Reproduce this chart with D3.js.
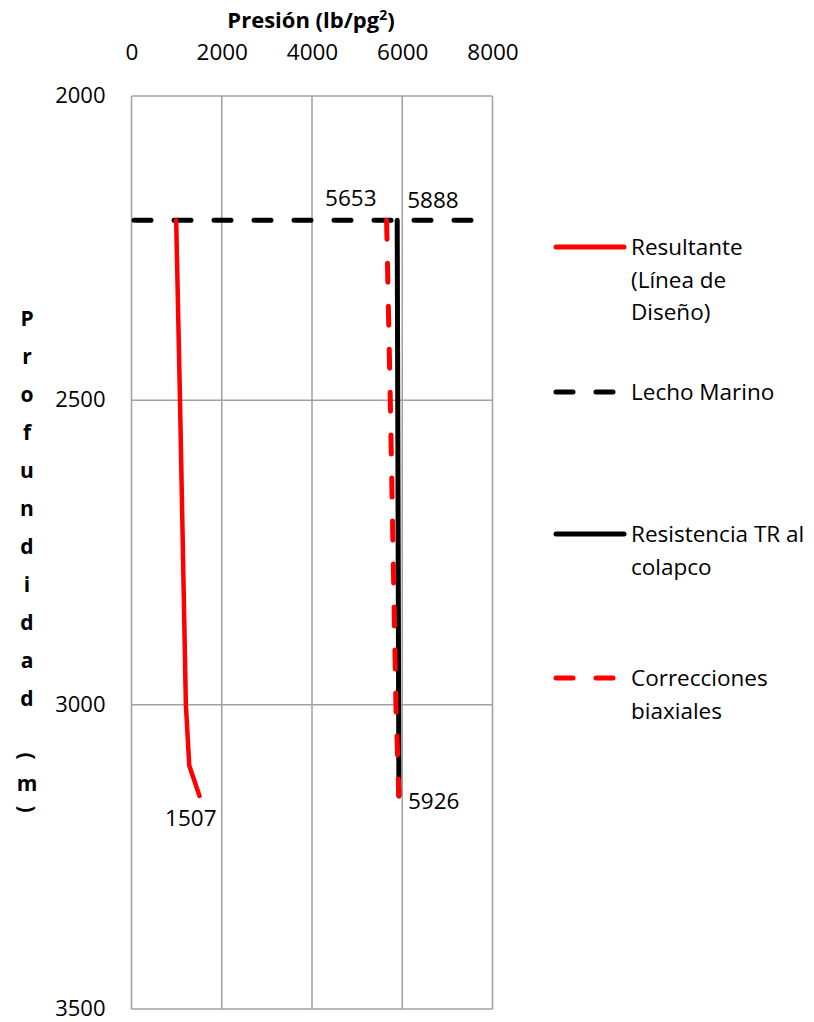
<!DOCTYPE html>
<html>
<head>
<meta charset="utf-8">
<script src="https://cdn.jsdelivr.net/npm/d3@7"></script>
<style>
  body { margin: 0; background: #fff; }
  text { font-family: "Open Sans", sans-serif; fill: #000; }
</style>
</head>
<body>
<svg id="chart"></svg>
<script>
// data (depth in m, pressure in lb/pg2)
var xTicks = [0, 2000, 4000, 6000, 8000];
var yTicks = [2000, 2500, 3000, 3500];

var resultDepth = [2204, 2500, 3000, 3100, 3150];
var resultValue = [990, 1075, 1205, 1280, 1507];

var seabedDepth = 2204;
var seabedRange = [0, 8000];

var resistDepth = [2204, 3150];
var resistValue = [5888, 5926];

var biaxDepth = [2204, 2500, 3000, 3150];
var biaxValue = [5653, 5735, 5860, 5926];

var pointLabels = [
  { text: "5653", v: 5653, d: 2204, dx: -10, dy: -14, anchor: "end" },
  { text: "5888", v: 5888, d: 2204, dx: 10, dy: -12, anchor: "start" },
  { text: "1507", v: 1507, d: 3150, dx: 17, dy: 30, anchor: "end" },
  { text: "5926", v: 5926, d: 3150, dx: 9, dy: 13, anchor: "start" }
];

var yTitle = "Profundidad (m)";

var w = 814, h = 1022;
var svg = d3.select('#chart').attr("width", w).attr("height", h);

var x = d3.scaleLinear().domain([0, 8000]).range([131.5, 492.5]);
var y = d3.scaleLinear().domain([2000, 3500]).range([96, 1009]);

var grid = "#a0a0a0";

// grid lines
svg.append("g").selectAll("line").data(xTicks).enter().append("line")
  .attr("x1", function(d) { return x(d); }).attr("x2", function(d) { return x(d); })
  .attr("y1", y(2000)).attr("y2", y(3500))
  .attr("stroke", grid).attr("stroke-width", 1.5);
svg.append("g").selectAll("line").data(yTicks).enter().append("line")
  .attr("x1", x(0)).attr("x2", x(8000))
  .attr("y1", function(d) { return y(d); }).attr("y2", function(d) { return y(d); })
  .attr("stroke", grid).attr("stroke-width", 1.5);

// axes
var xAxis = svg.append("g").attr("transform", "translate(0," + y(2000) + ")")
  .call(d3.axisTop(x).tickValues(xTicks).tickSize(0).tickPadding(36).tickFormat(d3.format("d")));
var yAxis = svg.append("g").attr("transform", "translate(" + x(0) + ",0)")
  .call(d3.axisLeft(y).tickValues(yTicks).tickSize(0).tickPadding(26).tickFormat(d3.format("d")));
xAxis.select(".domain").remove();
yAxis.select(".domain").remove();
xAxis.selectAll("text").style("font-family", "'Open Sans', sans-serif").style("font-size", "22.5px").attr("fill", "#000");
yAxis.selectAll("text").style("font-family", "'Open Sans', sans-serif").style("font-size", "22px").attr("fill", "#000")
  .attr("dy", "0.3em");

// x title
var title = svg.append("text").attr("x", 311).attr("y", 28).attr("text-anchor", "middle")
  .style("font-size", "22px").style("font-weight", "bold");
title.append("tspan").text("Presión (lb/pg");
title.append("tspan").text("2").style("font-size", "14px").attr("dy", -8);
title.append("tspan").text(")").attr("dy", 8);

// y title, stacked letters
var chars = yTitle.split("");
var cy = 326, yt = [];
chars.forEach(function(c, i) {
  if (c == " ") { cy += 19; return; }
  var paren = (c == "(" || c == ")");
  yt.push({ c: c, y: paren ? cy - 7 : cy, paren: paren });
  if (c == "(") cy += 28;
  else if (chars[i + 1] == ")") cy += 25;
  else cy += 38;
});
svg.append("g").selectAll("text").data(yt).enter().append("text")
  .attr("text-anchor", "middle")
  .attr("transform", function(d) {
    if (d.paren) return "translate(27," + d.y + ") rotate(90)";
    return "translate(27," + d.y + ")";
  })
  .attr("dy", function(d) { return d.paren ? "0.34em" : "0"; })
  .style("font-size", "21px").style("font-weight", "bold")
  .text(function(d) { return d.c; });

// series
var line = d3.line().x(function(d) { return x(d[0]); }).y(function(d) { return y(d[1]); });

svg.append("path")
  .attr("d", line(seabedRange.map(function(v) { return [v, seabedDepth]; })))
  .attr("fill", "none").attr("stroke", "#000").attr("stroke-width", 5)
  .attr("stroke-dasharray", "17,23").attr("stroke-dashoffset", -2.5).attr("stroke-linecap", "round");

svg.append("path")
  .attr("d", line(resultDepth.map(function(d, i) { return [resultValue[i], d]; })))
  .attr("fill", "none").attr("stroke", "#ff0000").attr("stroke-width", 4.5)
  .attr("stroke-linejoin", "round").attr("stroke-linecap", "round");

svg.append("path")
  .attr("d", line(resistDepth.map(function(d, i) { return [resistValue[i], d]; })))
  .attr("fill", "none").attr("stroke", "#000").attr("stroke-width", 5)
  .attr("stroke-linecap", "round");

svg.append("path")
  .attr("d", line(biaxDepth.map(function(d, i) { return [biaxValue[i], d]; })))
  .attr("fill", "none").attr("stroke", "#ff0000").attr("stroke-width", 5)
  .attr("stroke-dasharray", "19,24").attr("stroke-linecap", "round");

// point labels
svg.append("g").selectAll("text").data(pointLabels).enter().append("text")
  .attr("x", function(d) { return x(d.v) + d.dx; })
  .attr("y", function(d) { return y(d.d) + d.dy; })
  .attr("text-anchor", function(d) { return d.anchor; })
  .style("font-size", "22.5px")
  .text(function(d) { return d.text; });

// legend
var legend = [
  { lines: ["Resultante", "(Línea de", "Diseño)"], color: "#ff0000", dash: null, y: 247 },
  { lines: ["Lecho Marino"], color: "#000", dash: "17,23", y: 392 },
  { lines: ["Resistencia TR al", "colapco"], color: "#000", dash: null, y: 534 },
  { lines: ["Correcciones", "biaxiales"], color: "#ff0000", dash: "17,23", y: 678 }
];
var lg = svg.append("g").selectAll("g").data(legend).enter().append("g")
  .attr("transform", function(d) { return "translate(0," + d.y + ")"; });
lg.append("line").attr("x1", 556).attr("x2", 624).attr("y1", 0).attr("y2", 0)
  .attr("stroke", function(d) { return d.color; }).attr("stroke-width", 5)
  .attr("stroke-linecap", "round")
  .attr("stroke-dasharray", function(d) { return d.dash; });
lg.each(function(d) {
  var t = d3.select(this).append("text").attr("x", 631).attr("y", 8).style("font-size", "22.5px");
  d.lines.forEach(function(s, i) {
    t.append("tspan").attr("x", 631).attr("dy", i == 0 ? 0 : 32.5).text(s);
  });
});
</script>
</body>
</html>
